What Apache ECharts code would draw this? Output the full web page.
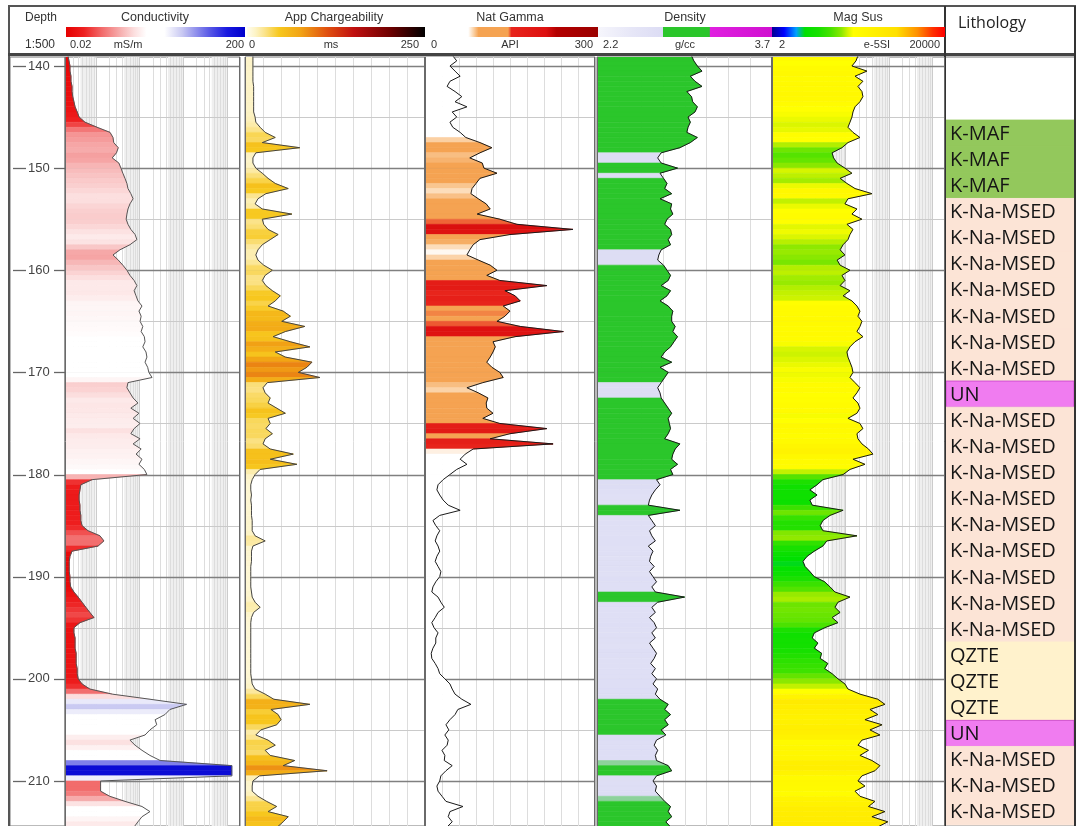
<!DOCTYPE html>
<html><head><meta charset="utf-8">
<script src="https://cdn.jsdelivr.net/npm/echarts@6/dist/echarts.min.js"></script>
<style>html,body{margin:0;padding:0;background:#fff}#c{width:1076px;height:826px}</style>
</head><body><div id="c"></div>
<script>
// ---------------- DATA ----------------
const DEPTH_TOP = 138.5, DEPTH_STEP = 0.5;   // sample depths (m)
const DEPTH_LABELS = [140,150,160,170,180,190,200,210];
const DEPTH_MINOR = [145,155,165,175,185,195,205];

// Conductivity (mS/m), log 0.02-200
const CONDUCTIVITY = [
 0.0234,0.0234,0.0247,0.026,0.026,0.0274,0.0274,0.029,0.029,0.030,
 0.032,0.034,0.038,0.042,0.057,0.108,0.214,0.25,0.26,0.33,
 0.30,0.24,0.34,0.38,0.42,0.47,0.52,0.55,0.64,0.72,
 0.61,0.55,0.52,0.50,0.55,0.64,0.80,0.88,0.61,0.36,
 0.25,0.33,0.42,0.52,0.61,0.76,0.88,0.76,0.84,0.93,
 1.15,0.98,1.10,1.04,1.20,1.10,1.30,1.35,1.20,1.42,
 1.49,1.35,1.55,1.65,1.95,0.55,0.52,0.61,0.72,0.93,
 0.64,0.98,0.72,1.04,0.76,0.64,1.04,0.72,1.10,0.84,
 1.15,0.98,1.30,1.49,0.083,0.046,0.044,0.042,0.042,0.044,
 0.044,0.046,0.046,0.049,0.067,0.126,0.155,0.114,0.029,0.026,
 0.025,0.025,0.025,0.026,0.026,0.027,0.032,0.040,0.049,0.060,
 0.074,0.092,0.044,0.032,0.032,0.034,0.034,0.034,0.036,0.036,
 0.036,0.038,0.038,0.040,0.049,0.074,0.24,1.75,12,5.0,
 3.85,2.3,2.5,1.75,1.35,0.61,0.80,1.15,1.75,3.0,
 130,130,130,0.13,0.13,0.13,0.21,0.47,1.15,1.75,
 1.15,0.93,0.76];

// App Chargeability (ms), 0-250
const CHARGEABILITY = [
 11,11,11,11,11,11,11,12,12,12,
 12,12,12,14,15,21,28,42,24,76,
 15,11,11,15,24,32,42,60,29,18,
 14,24,65,24,26,32,46,35,24,18,
 15,18,26,38,28,24,29,38,49,42,
 32,53,63,51,83,56,39,63,90,42,
 56,93,86,74,104,31,25,28,35,32,
 44,56,32,35,29,38,28,25,35,67,
 35,72,21,14,10,8,8,9,8,9,
 9,9,10,10,10,14,28,11,9,9,
 9,8,8,8,8,8,9,10,14,21,
 12,9,8,8,8,8,8,8,8,8,
 8,8,8,9,10,14,28,40,90,36,
 46,50,44,22,15,32,42,28,35,69,
 53,114,20,11,10,10,18,30,44,32,
 60,53,45];

// Nat Gamma (API), 0-300
const NAT_GAMMA = [
 53,49,56,44,53,62,44,39,53,65,
 53,74,48,56,44,49,62,72,97,118,
 97,79,101,104,127,97,90,83,81,94,
 108,115,92,132,162,261,150,97,85,79,
 74,94,115,127,109,132,215,141,159,168,
 138,150,141,127,168,244,159,120,124,120,
 115,109,118,132,138,102,74,94,111,108,
 109,120,102,132,215,150,115,226,85,71,
 62,74,56,44,32,23,21,26,32,41,
 62,26,14,19,26,21,18,23,26,21,
 18,23,28,26,19,14,12,23,28,34,
 23,18,12,16,23,19,19,14,11,12,
 18,23,26,35,44,48,53,65,81,58,
 53,44,37,42,35,41,39,30,35,34,
 48,37,28,26,21,23,30,37,67,44,
 41,48,39];

// Density (g/cc), 2.2-3.7
const DENSITY = [
 3.01,3.01,3.03,3.06,3.10,3.00,3.04,3.10,2.97,3.01,
 3.02,3.06,3.04,2.98,3.00,2.98,2.97,3.06,3.00,2.91,
 2.75,2.72,2.75,2.89,2.74,2.77,2.80,2.78,2.84,2.74,
 2.84,2.83,2.85,2.80,2.78,2.83,2.84,2.81,2.83,2.75,
 2.73,2.72,2.77,2.80,2.83,2.81,2.75,2.83,2.80,2.74,
 2.81,2.85,2.84,2.84,2.87,2.85,2.89,2.86,2.83,2.78,
 2.75,2.84,2.74,2.81,2.78,2.75,2.72,2.74,2.75,2.78,
 2.81,2.84,2.81,2.82,2.83,2.81,2.78,2.91,2.87,2.85,
 2.84,2.89,2.83,2.85,2.71,2.74,2.70,2.67,2.65,2.64,
 2.91,2.64,2.67,2.70,2.65,2.67,2.70,2.64,2.68,2.66,
 2.65,2.69,2.65,2.68,2.71,2.67,2.70,2.95,2.72,2.67,
 2.70,2.65,2.69,2.71,2.67,2.70,2.65,2.68,2.71,2.69,
 2.66,2.70,2.67,2.71,2.68,2.72,2.70,2.74,2.81,2.78,
 2.83,2.78,2.81,2.75,2.79,2.71,2.69,2.72,2.70,2.71,
 2.81,2.84,2.71,2.68,2.71,2.70,2.74,2.78,2.83,2.81,
 2.84,2.79,2.83];

// Mag Sus (e-5 SI), log 2-20000
const MAG_SUS = [
 194,194,175,141,314,166,253,194,240,253,
 216,166,149,141,127,114,149,216,114,83,
 49,53,64,97,141,75,108,166,409,114,
 97,184,141,240,108,149,127,114,88,75,
 97,64,75,127,83,97,75,127,88,141,
 184,216,194,240,216,184,253,166,127,108,
 114,127,141,149,127,166,216,184,149,194,
 216,184,114,216,253,184,194,240,340,432,
 149,282,127,88,30,22,15,22,15,17,
 88,44,30,26,30,184,37,30,19,13,
 10.4,11.6,15,19,33,44,57,127,67,57,
 75,49,67,33,19,17,23,19,28,26,
 39,33,49,67,97,114,216,560,816,368,
 560,282,700,368,626,240,194,340,216,409,
 626,480,240,194,282,166,216,480,340,816,
 409,950,560];

// Lithology intervals
const LITHO_TOPS = [145.30,147.86,150.41,152.97,155.52,158.08,160.63,163.19,165.74,168.30,
 170.85,173.41,175.96,178.52,181.07,183.63,186.18,188.74,191.29,193.85,
 196.40,198.96,201.51,204.07,206.62,209.18,211.73,214.29];
const LITHO_CODES = ['K-MAF','K-MAF','K-MAF',
 'K-Na-MSED','K-Na-MSED','K-Na-MSED','K-Na-MSED','K-Na-MSED','K-Na-MSED','K-Na-MSED',
 'UN',
 'K-Na-MSED','K-Na-MSED','K-Na-MSED','K-Na-MSED','K-Na-MSED','K-Na-MSED','K-Na-MSED','K-Na-MSED','K-Na-MSED',
 'QZTE','QZTE','QZTE','UN','K-Na-MSED','K-Na-MSED','K-Na-MSED'];

// grid line values
const COND_GRID_MINOR = [0.03,0.04,0.05,0.06,0.07,0.08,0.09,0.2,0.3,0.4,0.5,0.6,0.7,0.8,0.9,2,3,4,5,6,7,8,9,20,30,40,50,60,70,80,90];
const COND_GRID_MAJOR = [0.1,1,10,100];
const COND_SHADE = [[0.045,0.1],[0.45,1],[4.5,10],[45,100]];
const MAG_GRID_MINOR = [3,4,5,6,7,8,9,20,30,40,50,60,70,80,90,200,300,400,500,600,700,800,900,2000,3000,4000,5000,6000,7000,8000,9000];
const MAG_GRID_MAJOR = [10,100,1000,10000];
const MAG_SHADE = [[4.5,10],[45,100],[450,1000],[4500,10000]];
const CHARG_GRID = [25,50,75,100,125,150,175,200,225];
const GAMMA_GRID = [30,60,90,120,150,180,210,240,270];
const DENS_GRID = [2.3875,2.575,2.7625,2.95,3.1375,3.325,3.5125];

// ---------------- STYLES ----------------
const COND_STOPS = [[0,'#e60000'],[0.1,'#ee2020'],[0.2,'#f26a6a'],[0.3,'#f6acac'],[0.38,'#fcdede'],[0.45,'#ffffff'],[0.55,'#ffffff'],[0.65,'#c8c8f2'],[0.8,'#5a5ae6'],[0.9,'#1a1ae0'],[1,'#0000cc']];
const CHARG_STOPS = [[0,'#fffdf0'],[0.05,'#fdf3c4'],[0.1,'#fbe38a'],[0.18,'#f7c81e'],[0.3,'#f2a415'],[0.45,'#e05010'],[0.6,'#c01010'],[0.8,'#700000'],[1,'#000000']];
const GAMMA_STOPS = [[0,'#ffffff'],[0.25,'#ffffff'],[0.28,'#fbd3a8'],[0.31,'#f5a352'],[0.48,'#f5a352'],[0.5,'#e8251c'],[0.7,'#dd1010'],[0.76,'#b40000'],[1,'#9a0000']];
const DENS_STOPS = [[0,'#f6f6fc'],[0.2,'#e6e6f7'],[0.372,'#dcdcf4'],[0.375,'#2bc62b'],[0.64,'#2bc62b'],[0.645,'#e020e0'],[1,'#d010d0']];
const MAG_STOPS = [[0,'#000090'],[0.07,'#0000ff'],[0.14,'#00a0ff'],[0.19,'#00e000'],[0.27,'#18e000'],[0.34,'#48e200'],[0.4,'#8ae800'],[0.44,'#d4f400'],[0.47,'#ffff00'],[0.72,'#ffe000'],[0.84,'#ff9000'],[0.93,'#ff3000'],[1,'#ff0000']];
const LITHO_COLORS = {'K-MAF':'#93c85c','K-Na-MSED':'#fce4d6','UN':'#f07cf0','QZTE':'#fff2cc'};

const TOP = 57, HEIGHT = 769, YMIN = 139.12, YMAX = 214.41;
const TRACKS = [
 {left:10, width:55},   // depth
 {left:65, width:175},  // conductivity
 {left:245, width:180}, // chargeability
 {left:425, width:170}, // gamma
 {left:597, width:175}, // density
 {left:772, width:173}, // mag sus
 {left:945, width:130}  // lithology
];

// ---------------- HELPERS ----------------
function depthAt(i){ return +(DEPTH_TOP + i*DEPTH_STEP).toFixed(2); }
function hex2rgb(h){h=h.replace('#','');return [parseInt(h.slice(0,2),16),parseInt(h.slice(2,4),16),parseInt(h.slice(4,6),16)];}
function colorAt(stops,p){
  p=Math.max(0,Math.min(1,p));
  for(let i=1;i<stops.length;i++){
    if(p<=stops[i][0]){
      const p0=stops[i-1][0],c0=stops[i-1][1],p1=stops[i][0],c1=stops[i][1];
      const t=p1>p0?(p-p0)/(p1-p0):1; const a=hex2rgb(c0),b=hex2rgb(c1);
      return 'rgb('+a.map((x,k)=>Math.round(x+(b[k]-x)*t)).join(',')+')';
    }
  }
  return stops[stops.length-1][1];
}
const L10 = Math.log10;
const POS = {
  1: v => (L10(v)-L10(0.02))/4,
  2: v => v/250,
  3: v => v/300,
  4: v => (v-2.2)/1.5,
  5: v => (L10(v)-L10(2))/4
};
const XMIN = {1:0.02, 2:0, 3:0, 4:2.2, 5:2};

function shadeSeries(gi, bands){
  return {type:'custom', xAxisIndex:gi, yAxisIndex:gi, z:1, silent:true, clip:true,
    encode:{x:[0,1]}, data: bands,
    renderItem(params, api){
      const cs=params.coordSys;
      const x0=api.coord([api.value(0), 170])[0], x1=api.coord([api.value(1), 170])[0];
      return {type:'rect', shape:{x:x0, y:cs.y, width:x1-x0, height:cs.height}, style:{fill:'#efefef'}};
    }};
}
function gridSeries(gi, majorV, minorV){
  const data=[];
  minorV.forEach(v=>data.push([v,170,0]));
  majorV.forEach(v=>data.push([v,170,1]));
  DEPTH_MINOR.forEach(d=>data.push([XMIN[gi],d,2]));
  DEPTH_LABELS.forEach(d=>data.push([XMIN[gi],d,3]));
  return {type:'custom', xAxisIndex:gi, yAxisIndex:gi, z:1, silent:true, clip:true,
    encode:{x:0,y:1}, data,
    renderItem(params, api){
      const cs=params.coordSys, kind=api.value(2);
      const p=api.coord([api.value(0), api.value(1)]);
      if(kind<2){ const x=Math.round(p[0])+0.5;
        return {type:'line', shape:{x1:x,y1:cs.y,x2:x,y2:cs.y+cs.height}, style:{stroke: kind?'#cccccc':'#dddddd', lineWidth:1}}; }
      const y=Math.round(p[1])+0.5;
      return {type:'line', shape:{x1:cs.x,y1:y,x2:cs.x+cs.width,y2:y}, style:{stroke: kind===3?'#808080':'#cacaca', lineWidth: kind===3?1.4:1}};
    }};
}
function fillSeries(gi, vals, stops){
  const data=[];
  for(let i=0;i<vals.length-1;i++) data.push([vals[i], depthAt(i), vals[i+1], depthAt(i+1)]);
  const xm = XMIN[gi], pos = POS[gi];
  return {type:'custom', xAxisIndex:gi, yAxisIndex:gi, z:2, silent:true, clip:true,
    dimensions:['v0','d0','v1','d1'], encode:{x:[0,2], y:[1,3]}, data,
    renderItem(params, api){
      const v0=api.value(0), d0=api.value(1), v1=api.value(2), d1=api.value(3);
      const a=api.coord([xm,d0]), b=api.coord([v0,d0]), c=api.coord([v1,d1]), e=api.coord([xm,d1]);
      const col=colorAt(stops,(pos(v0)+pos(v1))/2);
      return {type:'polygon', shape:{points:[a,b,c,e]}, style:{fill:col, stroke:col, lineWidth:0.6}};
    }};
}
function curveSeries(gi, vals, color){
  return {type:'line', xAxisIndex:gi, yAxisIndex:gi, z:3, silent:true, symbol:'none', showSymbol:false,
    lineStyle:{color, width:1}, data: vals.map((v,i)=>[v, depthAt(i)]), clip:true};
}

// ---------------- OPTION ----------------
const grids = TRACKS.map(t=>({left:t.left, width:t.width, top:TOP, height:HEIGHT, show:true, borderColor:'#777', borderWidth:1, backgroundColor:'#fff'}));
const hiddenX = (o)=>Object.assign({show:false, splitLine:{show:false}}, o);
const xAxes = [
  hiddenX({gridIndex:0, type:'value', min:0, max:1}),
  hiddenX({gridIndex:1, type:'log', logBase:10, min:0.02, max:200}),
  hiddenX({gridIndex:2, type:'value', min:0, max:250}),
  hiddenX({gridIndex:3, type:'value', min:0, max:300}),
  hiddenX({gridIndex:4, type:'value', min:2.2, max:3.7}),
  hiddenX({gridIndex:5, type:'log', logBase:10, min:2, max:20000}),
  hiddenX({gridIndex:6, type:'value', min:0, max:1})
];
const yAxes = TRACKS.map((t,i)=>({gridIndex:i, type:'value', inverse:true, min:YMIN, max:YMAX, show:i===0,
  axisLine:{show:false}, axisTick:{show:false}, splitLine:{show:false},
  axisLabel:{inside:true, margin:18, customValues:DEPTH_LABELS, fontSize:13, color:'#444', fontFamily:'Liberation Sans'}}));

const series = [
  // depth tick dashes
  {type:'custom', xAxisIndex:0, yAxisIndex:0, z:3, silent:true, encode:{x:0,y:1},
   data: DEPTH_LABELS.map(d=>[0.5,d]),
   renderItem(params, api){ const cs=params.coordSys; const y=Math.round(api.coord([0.5,api.value(1)])[1])+0.5;
     return {type:'group', children:[
       {type:'line', shape:{x1:cs.x+3,y1:y,x2:cs.x+16,y2:y}, style:{stroke:'#666', lineWidth:1.3}},
       {type:'line', shape:{x1:cs.x+44,y1:y,x2:cs.x+cs.width,y2:y}, style:{stroke:'#666', lineWidth:1.3}}]}; }},
  shadeSeries(1, COND_SHADE),
  shadeSeries(5, MAG_SHADE),
  gridSeries(1, COND_GRID_MAJOR, COND_GRID_MINOR),
  gridSeries(2, [], CHARG_GRID),
  gridSeries(3, [], GAMMA_GRID),
  gridSeries(4, [], DENS_GRID),
  gridSeries(5, MAG_GRID_MAJOR, MAG_GRID_MINOR),
  fillSeries(1, CONDUCTIVITY, COND_STOPS),
  fillSeries(2, CHARGEABILITY, CHARG_STOPS),
  fillSeries(3, NAT_GAMMA, GAMMA_STOPS),
  fillSeries(4, DENSITY, DENS_STOPS),
  fillSeries(5, MAG_SUS, MAG_STOPS),
  curveSeries(1, CONDUCTIVITY, '#555'),
  curveSeries(2, CHARGEABILITY, '#444'),
  curveSeries(3, NAT_GAMMA, '#1a1a1a'),
  curveSeries(4, DENSITY, '#1a1a1a'),
  curveSeries(5, MAG_SUS, '#1a1a1a'),
  // lithology
  {type:'custom', xAxisIndex:6, yAxisIndex:6, z:2, silent:true, clip:true, encode:{x:0,y:[1,2]},
   data: LITHO_CODES.map((c,i)=>[0.5, LITHO_TOPS[i], LITHO_TOPS[i+1]]),
   renderItem(params, api){
     const cs=params.coordSys; const code=LITHO_CODES[params.dataIndex];
     const y0=api.coord([0.5,api.value(1)])[1], y1=api.coord([0.5,api.value(2)])[1];
     return {type:'group', children:[
       {type:'rect', shape:{x:cs.x+1, y:y0, width:cs.width-2, height:y1-y0},
        style:{fill:LITHO_COLORS[code], stroke: code==='UN'?'#d050d0':LITHO_COLORS[code], lineWidth:1}},
       {type:'text', style:{text:code, x:cs.x+5, y:(y0+y1)/2+1, align:'left', verticalAlign:'middle',
        fill:'#151515', font:'20px "Open Sans"'}}]};
   }}
];

// ---------------- HEADER GRAPHICS ----------------
function txt(s,x,y,size,align,color){return {type:'text', z:100, style:{text:s, x, y, font:size+'px "Liberation Sans"', fill:color||'#333', align:align||'center', textAlign:align||'center', verticalAlign:'middle', textVerticalAlign:'middle'}};}
function bar(x,w,stops){return {type:'rect', z:100, shape:{x, y:27, width:w, height:10}, style:{fill:new echarts.graphic.LinearGradient(0,0,1,0, stops.map(s=>({offset:s[0], color:s[1]})))}};}
function vline(x,y1,y2,c,w){return {type:'line', z:100, shape:{x1:x,y1,x2:x,y2}, style:{stroke:c, lineWidth:w}};}
function hline(y,x1,x2,c,w){return {type:'line', z:100, shape:{x1,y1:y,x2,y2:y}, style:{stroke:c, lineWidth:w}};}

const graphic = [
  hline(6,8,1076,'#555',2),
  vline(9,6,826,'#555',2),
  hline(54.5,8,1076,'#444',3),
  vline(945,6,826,'#333',2),
  vline(1075,6,826,'#333',2),
  txt('Depth',41,18,12), txt('1:500',40,45,12),
  txt('Conductivity',155,18,12.5), txt('App Chargeability',334,18,12.5), txt('Nat Gamma',510,18,12.5),
  txt('Density',685,18,12.5), txt('Mag Sus',858,18,12.5),
  bar(66,179,COND_STOPS), bar(247,178,CHARG_STOPS), bar(425,173,GAMMA_STOPS), bar(598,174,DENS_STOPS), bar(772,173,MAG_STOPS),
  txt('0.02',70,45,11,'left'), txt('mS/m',128,45,11), txt('200',244,45,11,'right'),
  txt('0',249,45,11,'left'), txt('ms',331,45,11), txt('250',419,45,11,'right'),
  txt('0',431,45,11,'left'), txt('API',510,45,11), txt('300',593,45,11,'right'),
  txt('2.2',603,45,11,'left'), txt('g/cc',685,45,11), txt('3.7',770,45,11,'right'),
  txt('2',779,45,11,'left'), txt('e-5SI',877,45,11), txt('20000',940,45,11,'right'),
  {type:'text', z:100, style:{text:'Lithology', x:958, y:23, font:'16px "Open Sans"', fill:'#222', align:'left', textAlign:'left', verticalAlign:'middle', textVerticalAlign:'middle'}}
];
TRACKS.slice(1,6).forEach(t=>{ graphic.push(vline(t.left+0.5,TOP,826,'#6a6a6a',1)); graphic.push(vline(t.left+t.width-0.5,TOP,826,'#6a6a6a',1)); });

const chart = echarts.init(document.getElementById('c'), null, {renderer:'canvas'});
chart.setOption({animation:false, backgroundColor:'#fff', grid:grids, xAxis:xAxes, yAxis:yAxes, series, graphic});
</script></body></html>
